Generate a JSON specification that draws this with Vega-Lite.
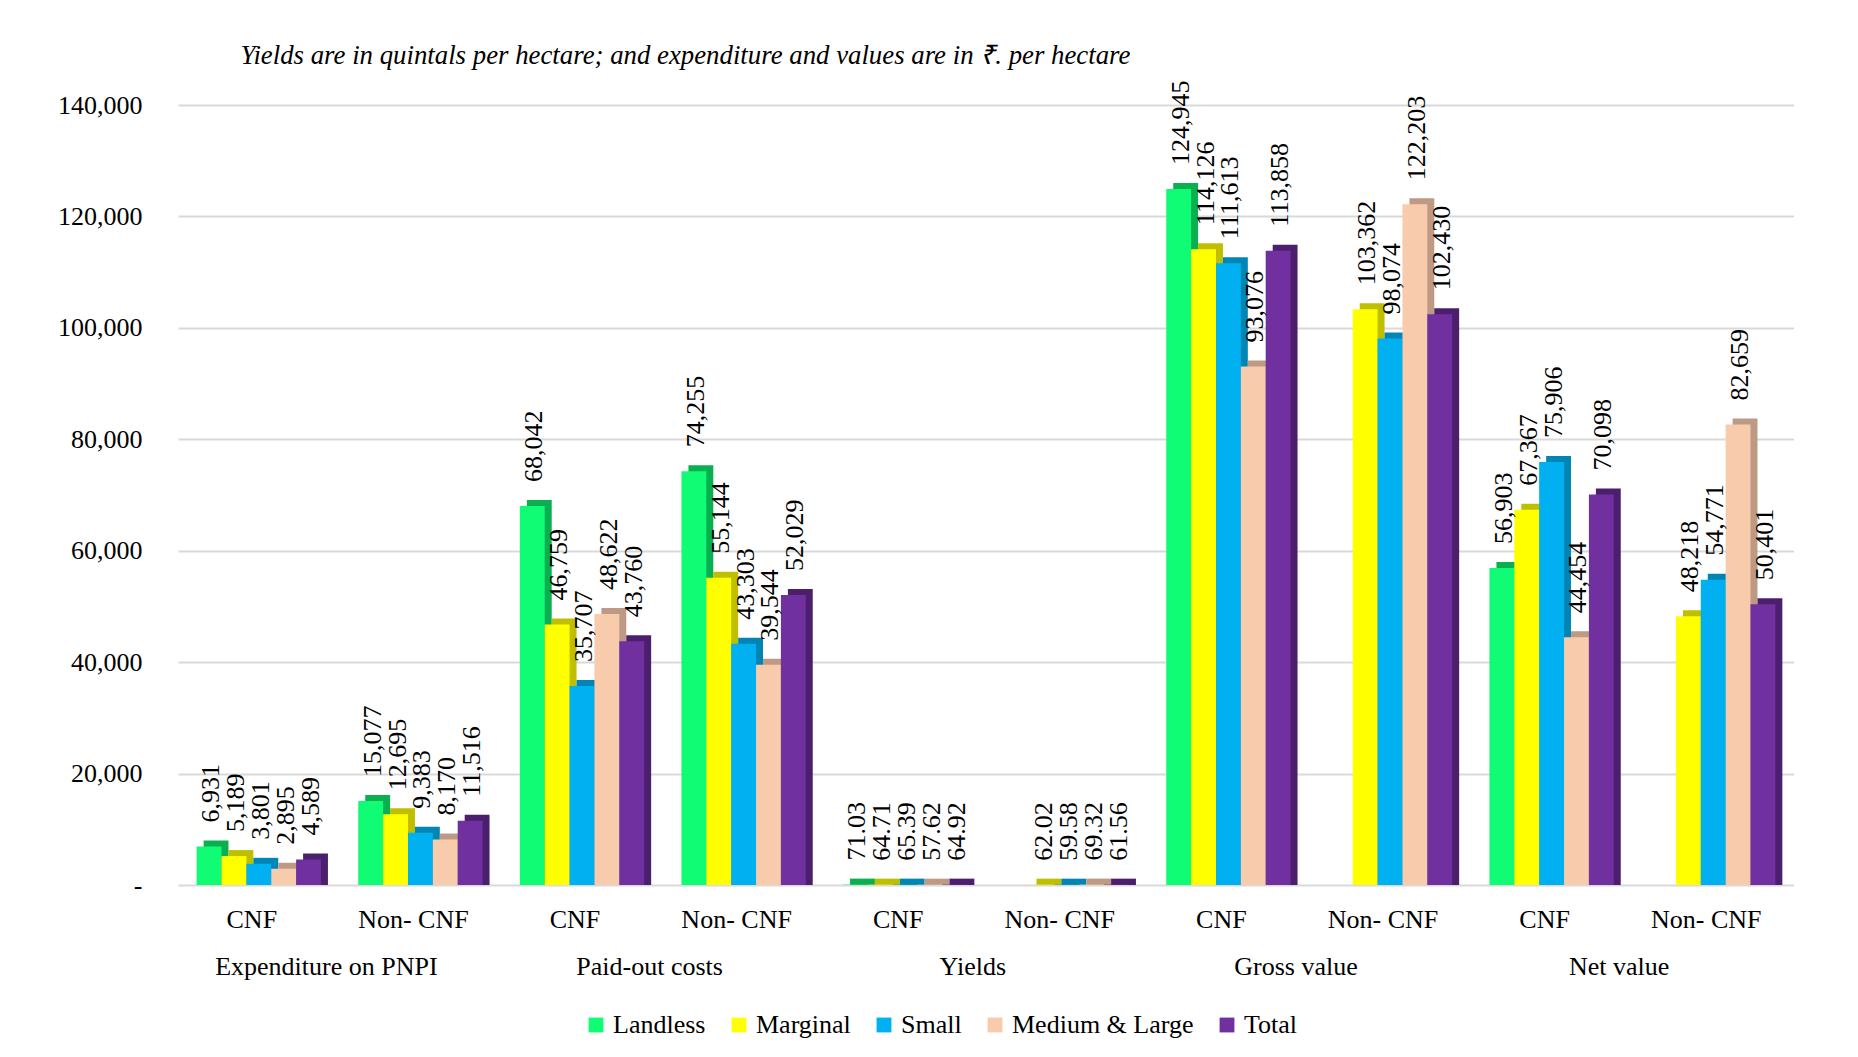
{
  "$schema": "https://vega.github.io/schema/vega-lite/v6.json",
  "padding": {"left": 57, "top": 42, "right": 0, "bottom": 0},
  "width": 1616,
  "height": 780,
  "title": {"text": "Yields are in quintals per hectare; and expenditure and values are in ₹. per hectare", "font": "Liberation Serif", "fontSize": 26.8, "fontStyle": "italic", "fontWeight": "normal", "color": "#000000", "anchor": "start", "offset": 11, "dx": 183},
  "data": {"values": [
    {"group": "Expenditure on PNPI", "type": "CNF", "holding": "Landless", "value": 6931},
    {"group": "Expenditure on PNPI", "type": "CNF", "holding": "Marginal", "value": 5189},
    {"group": "Expenditure on PNPI", "type": "CNF", "holding": "Small", "value": 3801},
    {"group": "Expenditure on PNPI", "type": "CNF", "holding": "Medium & Large", "value": 2895},
    {"group": "Expenditure on PNPI", "type": "CNF", "holding": "Total", "value": 4589},
    {"group": "Expenditure on PNPI", "type": "Non- CNF", "holding": "Landless", "value": 15077},
    {"group": "Expenditure on PNPI", "type": "Non- CNF", "holding": "Marginal", "value": 12695},
    {"group": "Expenditure on PNPI", "type": "Non- CNF", "holding": "Small", "value": 9383},
    {"group": "Expenditure on PNPI", "type": "Non- CNF", "holding": "Medium & Large", "value": 8170},
    {"group": "Expenditure on PNPI", "type": "Non- CNF", "holding": "Total", "value": 11516},
    {"group": "Paid-out costs", "type": "CNF", "holding": "Landless", "value": 68042},
    {"group": "Paid-out costs", "type": "CNF", "holding": "Marginal", "value": 46759},
    {"group": "Paid-out costs", "type": "CNF", "holding": "Small", "value": 35707},
    {"group": "Paid-out costs", "type": "CNF", "holding": "Medium & Large", "value": 48622},
    {"group": "Paid-out costs", "type": "CNF", "holding": "Total", "value": 43760},
    {"group": "Paid-out costs", "type": "Non- CNF", "holding": "Landless", "value": 74255},
    {"group": "Paid-out costs", "type": "Non- CNF", "holding": "Marginal", "value": 55144},
    {"group": "Paid-out costs", "type": "Non- CNF", "holding": "Small", "value": 43303},
    {"group": "Paid-out costs", "type": "Non- CNF", "holding": "Medium & Large", "value": 39544},
    {"group": "Paid-out costs", "type": "Non- CNF", "holding": "Total", "value": 52029},
    {"group": "Yields", "type": "CNF", "holding": "Landless", "value": 71.03},
    {"group": "Yields", "type": "CNF", "holding": "Marginal", "value": 64.71},
    {"group": "Yields", "type": "CNF", "holding": "Small", "value": 65.39},
    {"group": "Yields", "type": "CNF", "holding": "Medium & Large", "value": 57.62},
    {"group": "Yields", "type": "CNF", "holding": "Total", "value": 64.92},
    {"group": "Yields", "type": "Non- CNF", "holding": "Marginal", "value": 62.02},
    {"group": "Yields", "type": "Non- CNF", "holding": "Small", "value": 59.58},
    {"group": "Yields", "type": "Non- CNF", "holding": "Medium & Large", "value": 69.32},
    {"group": "Yields", "type": "Non- CNF", "holding": "Total", "value": 61.56},
    {"group": "Gross value", "type": "CNF", "holding": "Landless", "value": 124945},
    {"group": "Gross value", "type": "CNF", "holding": "Marginal", "value": 114126},
    {"group": "Gross value", "type": "CNF", "holding": "Small", "value": 111613},
    {"group": "Gross value", "type": "CNF", "holding": "Medium & Large", "value": 93076},
    {"group": "Gross value", "type": "CNF", "holding": "Total", "value": 113858},
    {"group": "Gross value", "type": "Non- CNF", "holding": "Marginal", "value": 103362},
    {"group": "Gross value", "type": "Non- CNF", "holding": "Small", "value": 98074},
    {"group": "Gross value", "type": "Non- CNF", "holding": "Medium & Large", "value": 122203},
    {"group": "Gross value", "type": "Non- CNF", "holding": "Total", "value": 102430},
    {"group": "Net value", "type": "CNF", "holding": "Landless", "value": 56903},
    {"group": "Net value", "type": "CNF", "holding": "Marginal", "value": 67367},
    {"group": "Net value", "type": "CNF", "holding": "Small", "value": 75906},
    {"group": "Net value", "type": "CNF", "holding": "Medium & Large", "value": 44454},
    {"group": "Net value", "type": "CNF", "holding": "Total", "value": 70098},
    {"group": "Net value", "type": "Non- CNF", "holding": "Marginal", "value": 48218},
    {"group": "Net value", "type": "Non- CNF", "holding": "Small", "value": 54771},
    {"group": "Net value", "type": "Non- CNF", "holding": "Medium & Large", "value": 82659},
    {"group": "Net value", "type": "Non- CNF", "holding": "Total", "value": 50401}
  ]},
  "transform": [
    {"calculate": "datum.value < 1000 ? format(datum.value, '.2f') : format(datum.value, ',')", "as": "label"},
    {"calculate": "datum.group + '|' + datum.type + '|' + datum.holding", "as": "key"}
  ],
  "encoding": {
    "x": {
      "field": "key", "type": "nominal",
      "scale": {"paddingInner": 0, "paddingOuter": 0, "domain": [
        "Expenditure on PNPI|CNF|s0", "Expenditure on PNPI|CNF|s1", "Expenditure on PNPI|CNF|Landless", "Expenditure on PNPI|CNF|s3", "Expenditure on PNPI|CNF|Marginal", "Expenditure on PNPI|CNF|s5", "Expenditure on PNPI|CNF|Small", "Expenditure on PNPI|CNF|s7", "Expenditure on PNPI|CNF|Medium & Large", "Expenditure on PNPI|CNF|s9", "Expenditure on PNPI|CNF|Total", "Expenditure on PNPI|CNF|s11", "Expenditure on PNPI|CNF|s12",
        "Expenditure on PNPI|Non- CNF|s0", "Expenditure on PNPI|Non- CNF|s1", "Expenditure on PNPI|Non- CNF|Landless", "Expenditure on PNPI|Non- CNF|s3", "Expenditure on PNPI|Non- CNF|Marginal", "Expenditure on PNPI|Non- CNF|s5", "Expenditure on PNPI|Non- CNF|Small", "Expenditure on PNPI|Non- CNF|s7", "Expenditure on PNPI|Non- CNF|Medium & Large", "Expenditure on PNPI|Non- CNF|s9", "Expenditure on PNPI|Non- CNF|Total", "Expenditure on PNPI|Non- CNF|s11", "Expenditure on PNPI|Non- CNF|s12",
        "Paid-out costs|CNF|s0", "Paid-out costs|CNF|s1", "Paid-out costs|CNF|Landless", "Paid-out costs|CNF|s3", "Paid-out costs|CNF|Marginal", "Paid-out costs|CNF|s5", "Paid-out costs|CNF|Small", "Paid-out costs|CNF|s7", "Paid-out costs|CNF|Medium & Large", "Paid-out costs|CNF|s9", "Paid-out costs|CNF|Total", "Paid-out costs|CNF|s11", "Paid-out costs|CNF|s12",
        "Paid-out costs|Non- CNF|s0", "Paid-out costs|Non- CNF|s1", "Paid-out costs|Non- CNF|Landless", "Paid-out costs|Non- CNF|s3", "Paid-out costs|Non- CNF|Marginal", "Paid-out costs|Non- CNF|s5", "Paid-out costs|Non- CNF|Small", "Paid-out costs|Non- CNF|s7", "Paid-out costs|Non- CNF|Medium & Large", "Paid-out costs|Non- CNF|s9", "Paid-out costs|Non- CNF|Total", "Paid-out costs|Non- CNF|s11", "Paid-out costs|Non- CNF|s12",
        "Yields|CNF|s0", "Yields|CNF|s1", "Yields|CNF|Landless", "Yields|CNF|s3", "Yields|CNF|Marginal", "Yields|CNF|s5", "Yields|CNF|Small", "Yields|CNF|s7", "Yields|CNF|Medium & Large", "Yields|CNF|s9", "Yields|CNF|Total", "Yields|CNF|s11", "Yields|CNF|s12",
        "Yields|Non- CNF|s0", "Yields|Non- CNF|s1", "Yields|Non- CNF|Landless", "Yields|Non- CNF|s3", "Yields|Non- CNF|Marginal", "Yields|Non- CNF|s5", "Yields|Non- CNF|Small", "Yields|Non- CNF|s7", "Yields|Non- CNF|Medium & Large", "Yields|Non- CNF|s9", "Yields|Non- CNF|Total", "Yields|Non- CNF|s11", "Yields|Non- CNF|s12",
        "Gross value|CNF|s0", "Gross value|CNF|s1", "Gross value|CNF|Landless", "Gross value|CNF|s3", "Gross value|CNF|Marginal", "Gross value|CNF|s5", "Gross value|CNF|Small", "Gross value|CNF|s7", "Gross value|CNF|Medium & Large", "Gross value|CNF|s9", "Gross value|CNF|Total", "Gross value|CNF|s11", "Gross value|CNF|s12",
        "Gross value|Non- CNF|s0", "Gross value|Non- CNF|s1", "Gross value|Non- CNF|Landless", "Gross value|Non- CNF|s3", "Gross value|Non- CNF|Marginal", "Gross value|Non- CNF|s5", "Gross value|Non- CNF|Small", "Gross value|Non- CNF|s7", "Gross value|Non- CNF|Medium & Large", "Gross value|Non- CNF|s9", "Gross value|Non- CNF|Total", "Gross value|Non- CNF|s11", "Gross value|Non- CNF|s12",
        "Net value|CNF|s0", "Net value|CNF|s1", "Net value|CNF|Landless", "Net value|CNF|s3", "Net value|CNF|Marginal", "Net value|CNF|s5", "Net value|CNF|Small", "Net value|CNF|s7", "Net value|CNF|Medium & Large", "Net value|CNF|s9", "Net value|CNF|Total", "Net value|CNF|s11", "Net value|CNF|s12",
        "Net value|Non- CNF|s0", "Net value|Non- CNF|s1", "Net value|Non- CNF|Landless", "Net value|Non- CNF|s3", "Net value|Non- CNF|Marginal", "Net value|Non- CNF|s5", "Net value|Non- CNF|Small", "Net value|Non- CNF|s7", "Net value|Non- CNF|Medium & Large", "Net value|Non- CNF|s9", "Net value|Non- CNF|Total", "Net value|Non- CNF|s11", "Net value|Non- CNF|s12"
      ]},
      "axis": {
        "title": null, "domain": false, "ticks": false, "grid": false, "labelAngle": 0, "labelPadding": 21, "labelOffset": -7,
        "labelFont": "Liberation Serif", "labelFontSize": 26, "labelColor": "#000000", "labelLimit": 0, "labelLineHeight": 47, "labelOverlap": false,
        "values": [
          "Expenditure on PNPI|CNF|Small", "Expenditure on PNPI|Non- CNF|Small", "Paid-out costs|CNF|Small", "Paid-out costs|Non- CNF|Small", "Yields|CNF|Small", "Yields|Non- CNF|Small", "Gross value|CNF|Small", "Gross value|Non- CNF|Small", "Net value|CNF|Small", "Net value|Non- CNF|Small",
          "Expenditure on PNPI|CNF|s12", "Paid-out costs|CNF|s12", "Yields|CNF|s12", "Gross value|CNF|s12", "Net value|CNF|s12"
        ],
        "labelExpr": "indexof(datum.value, '|s12') >= 0 ? ['', split(datum.value, '|')[0]] : split(datum.value, '|')[1]"
      }
    },
    "y": {
      "field": "value", "type": "quantitative", "stack": null,
      "scale": {"domain": [0, 140000], "nice": false},
      "axis": {"title": null, "domain": false, "ticks": false, "labelPadding": 36, "values": [0, 20000, 40000, 60000, 80000, 100000, 120000, 140000], "labelExpr": "datum.value === 0 ? '-  ' : format(datum.value, ',')", "labelFont": "Liberation Serif", "labelFontSize": 26, "labelColor": "#000000", "gridColor": "#d9d9d9", "gridWidth": 2}
    }
  },
  "layer": [
    {
      "mark": {"type": "bar", "width": {"band": 2}, "xOffset": 7, "yOffset": -6, "y2Offset": 0.01},
      "encoding": {
        "color": {"field": "holding", "type": "nominal", "scale": {"domain": ["Landless", "Marginal", "Small", "Medium & Large", "Total"], "range": ["#0AB050", "#BFBF00", "#0085B5", "#BE9A84", "#4B1F6E"]}, "legend": null}
      }
    },
    {
      "mark": {"type": "bar", "width": {"band": 2}},
      "encoding": {
        "color": {"field": "holding", "type": "nominal", "scale": {"domain": ["Landless", "Marginal", "Small", "Medium & Large", "Total"], "range": ["#10FC74", "#FFFF00", "#00B0F0", "#F8CBAD", "#7030A0"]},
          "legend": {"title": null, "orient": "none", "legendX": 405, "legendY": 907, "direction": "horizontal", "symbolType": "square", "symbolSize": 220, "symbolStrokeWidth": 0, "labelFont": "Liberation Serif", "labelFontSize": 26, "labelColor": "#000000", "labelLimit": 0, "columnPadding": 20, "labelOffset": 4, "padding": 0}}
      }
    },
    {
      "mark": {"type": "text", "angle": 270, "align": "left", "baseline": "middle", "dx": 24, "dy": 2, "font": "Liberation Serif", "fontSize": 26, "fill": "#000000"},
      "encoding": {
        "text": {"field": "label", "type": "nominal"}
      }
    }
  ],
  "resolve": {"scale": {"color": "independent"}},
  "config": {
    "view": {"stroke": null},
    "background": "#ffffff",
    "text": {"font": "Liberation Serif"}
  }
}
